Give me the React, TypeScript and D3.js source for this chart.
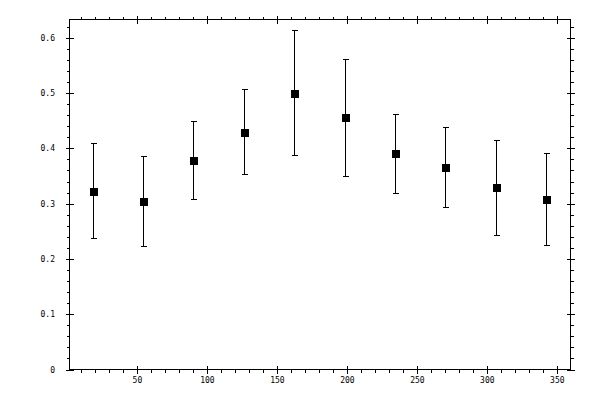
import { useEffect, useRef } from "react";
import * as d3 from "d3";

// angle (deg) of each sample
const angles = [18, 54, 90, 126, 162, 198, 234, 270, 306, 342];
// mean value and the ends of its error bar
const means = [0.322, 0.304, 0.378, 0.43, 0.5, 0.456, 0.391, 0.366, 0.33, 0.308];
const lows = [0.237, 0.224, 0.308, 0.354, 0.388, 0.35, 0.319, 0.294, 0.243, 0.225];
const highs = [0.409, 0.386, 0.45, 0.507, 0.614, 0.562, 0.462, 0.438, 0.415, 0.391];

const xMajor = [50, 100, 150, 200, 250, 300, 350];
const yMajor = [0, 0.1, 0.2, 0.3, 0.4, 0.5, 0.6];

export default function App() {
    const svgRef = useRef<SVGSVGElement | null>(null);

    useEffect(() => {
        const width = 600;
        const height = 400;
        const left = 69.5;
        const right = 570.5;
        const top = 19.5;
        const bottom = 369.5;

        const x = d3.scaleLinear().domain([1.5, 359.4]).range([left, right]);
        const y = d3.scaleLinear().domain([0, 0.633]).range([bottom, top]);

        const svg = d3.select(svgRef.current)
            .attr("width", width)
            .attr("height", height)
            .attr("viewBox", `0 0 ${width} ${height}`);
        svg.selectAll("*").remove();

        const g = svg.append("g")
            .attr("stroke", "#000")
            .attr("stroke-width", 1)
            .attr("shape-rendering", "crispEdges");

        // frame
        g.append("rect")
            .attr("x", left).attr("y", top)
            .attr("width", right - left).attr("height", bottom - top)
            .attr("fill", "none");

        const px = (v: number) => Math.round(x(v)) + 0.5;
        const py = (v: number) => Math.round(y(v)) + 0.5;

        // minor ticks (outside only)
        const xMinor = d3.range(10, 360, 10).filter(v => v % 50 !== 0);
        const yMinor = d3.range(0.02, 0.63, 0.02).filter(v => Math.abs(v * 10 - Math.round(v * 10)) > 0.01);

        xMinor.forEach(v => {
            g.append("line").attr("x1", px(v)).attr("x2", px(v)).attr("y1", bottom).attr("y2", bottom + 3);
            g.append("line").attr("x1", px(v)).attr("x2", px(v)).attr("y1", top).attr("y2", top - 3);
        });
        yMinor.forEach(v => {
            g.append("line").attr("y1", py(v)).attr("y2", py(v)).attr("x1", left).attr("x2", left - 3);
            g.append("line").attr("y1", py(v)).attr("y2", py(v)).attr("x1", right).attr("x2", right + 3);
        });

        // major ticks cross the frame
        xMajor.forEach(v => {
            g.append("line").attr("x1", px(v)).attr("x2", px(v)).attr("y1", bottom - 4).attr("y2", bottom + 4);
            g.append("line").attr("x1", px(v)).attr("x2", px(v)).attr("y1", top - 4).attr("y2", top + 4);
        });
        yMajor.forEach(v => {
            g.append("line").attr("y1", py(v)).attr("y2", py(v)).attr("x1", left - 4).attr("x2", left + 4);
            g.append("line").attr("y1", py(v)).attr("y2", py(v)).attr("x1", right - 4).attr("x2", right + 4);
        });

        // tick labels
        const labels = svg.append("g")
            .attr("font-family", "'DejaVu Sans Mono', monospace")
            .attr("font-size", 8)
            .attr("fill", "#000");

        labels.selectAll(".xl")
            .data(xMajor)
            .enter()
            .append("text")
            .attr("x", d => x(d))
            .attr("y", 383)
            .attr("text-anchor", "middle")
            .text(d => String(d));

        labels.selectAll(".yl")
            .data(yMajor)
            .enter()
            .append("text")
            .attr("x", 55)
            .attr("y", d => y(d) + 3)
            .attr("text-anchor", "end")
            .text(d => (d === 0 ? "0" : d3.format(".1f")(d)));

        // error bars
        const bars = g.append("g");
        angles.forEach((a, i) => {
            const cx = px(a);
            bars.append("line").attr("x1", cx).attr("x2", cx).attr("y1", py(lows[i])).attr("y2", py(highs[i]));
            bars.append("line").attr("x1", cx - 2.5).attr("x2", cx + 3.5).attr("y1", py(lows[i])).attr("y2", py(lows[i]));
            bars.append("line").attr("x1", cx - 2.5).attr("x2", cx + 3.5).attr("y1", py(highs[i])).attr("y2", py(highs[i]));
        });

        // markers
        svg.append("g")
            .selectAll("rect")
            .data(angles)
            .enter()
            .append("rect")
            .attr("x", d => Math.round(x(d)) - 3.5)
            .attr("y", (d, i) => Math.round(y(means[i])) - 3.5)
            .attr("width", 8)
            .attr("height", 8)
            .attr("fill", "#000")
            .attr("shape-rendering", "crispEdges");
    }, []);

    return (
        <div style={{ position: "absolute", left: 0, top: 0, width: 600, height: 400, background: "#fff" }}>
            <svg ref={svgRef} style={{ display: "block" }} />
        </div>
    );
}
